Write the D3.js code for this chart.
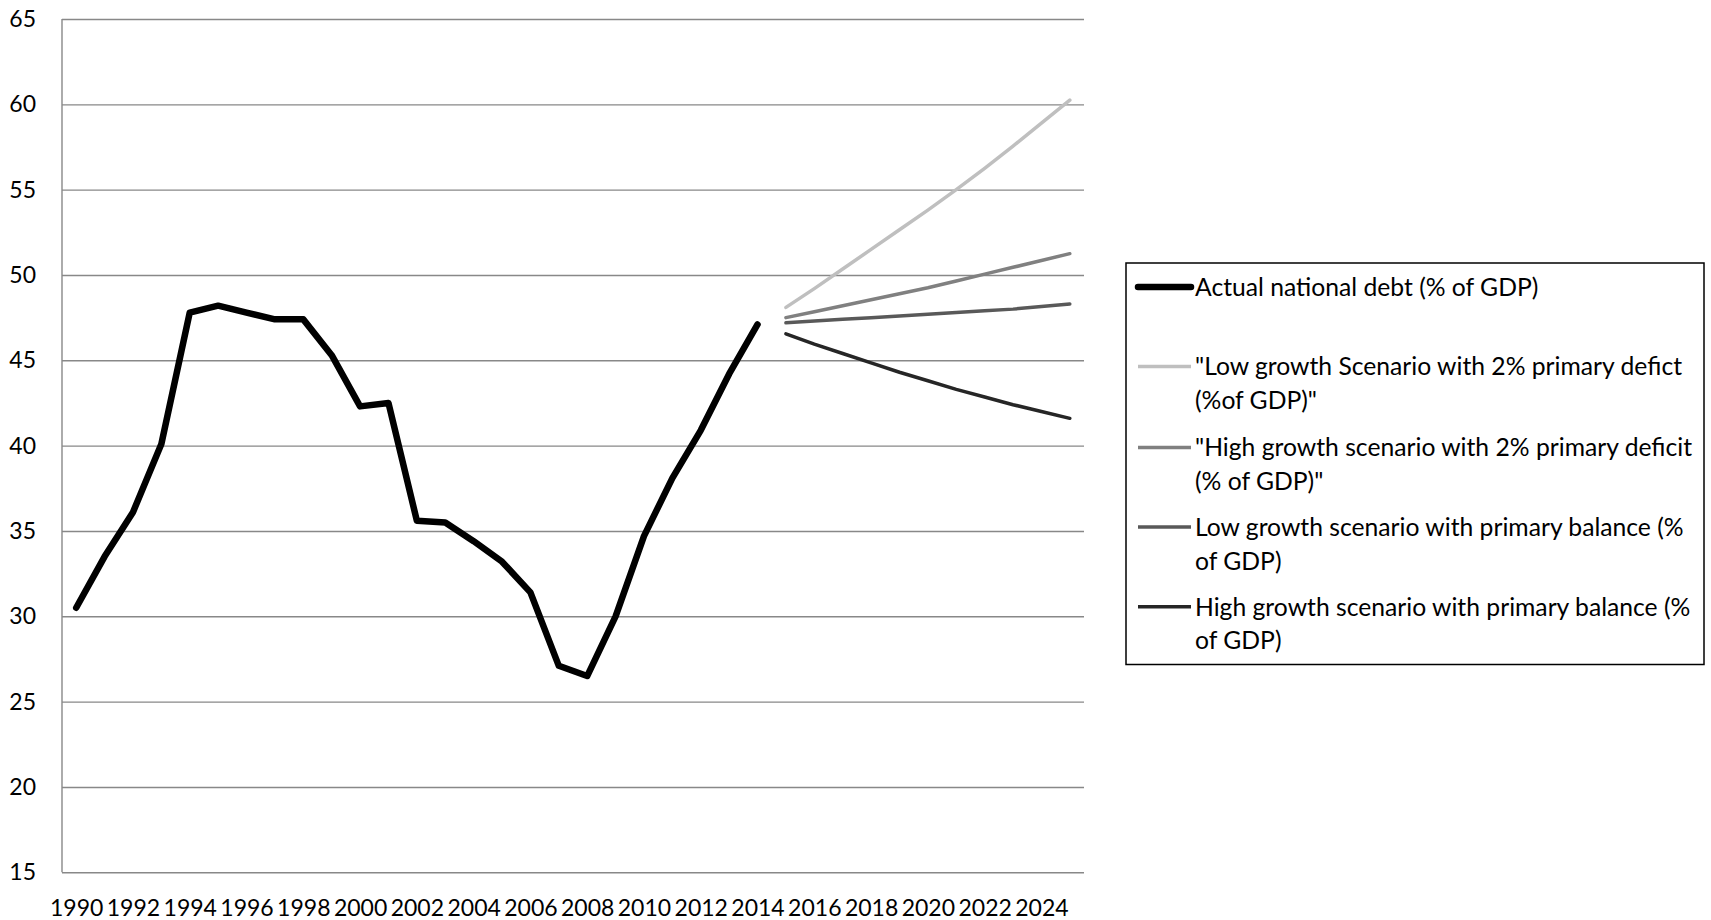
<!DOCTYPE html>
<html>
<head>
<meta charset="utf-8">
<script src="https://cdn.jsdelivr.net/npm/d3@7"></script>
<style>
  html, body { margin: 0; padding: 0; background: #fff; }
  svg { display: block; }
  text { font-family: Lato, "Open Sans", sans-serif; fill: #000; }
</style>
</head>
<body>
<svg id="chart" width="1711" height="920"></svg>
<script>
// Years on the category axis
const years = d3.range(1990, 2026);
const xTickLabels = d3.range(1990, 2025, 2);
const yTickValues = [15, 20, 25, 30, 35, 40, 45, 50, 55, 60, 65];

// Actual national debt, 1990–2014 (% of GDP)
const actualYears = d3.range(1990, 2015);
const actualDebt = [30.5, 33.5, 36.1, 40.1, 47.8, 48.2, 47.8, 47.4, 47.4, 45.3,
                    42.3, 42.5, 35.6, 35.5, 34.4, 33.2, 31.4, 27.1, 26.5, 30.0,
                    34.7, 38.1, 40.9, 44.2, 47.1];

// Projections, 2015–2025 (% of GDP)
const projYears = d3.range(2015, 2026);
const lowGrowthDeficit  = [48.10, 49.20, 50.35, 51.50, 52.65, 53.80, 55.00, 56.25, 57.55, 58.90, 60.25];
const highGrowthDeficit = [47.50, 47.85, 48.20, 48.55, 48.90, 49.25, 49.65, 50.05, 50.45, 50.85, 51.25];
const lowGrowthBalance  = [47.20, 47.30, 47.40, 47.50, 47.60, 47.70, 47.80, 47.90, 48.00, 48.15, 48.30];
const highGrowthBalance = [46.55, 45.95, 45.40, 44.85, 44.30, 43.80, 43.30, 42.85, 42.40, 42.00, 41.60];

// Series names, split into the lines shown in the legend
const seriesNames = [
  ["Actual national debt (% of GDP)"],
  ["\"Low growth Scenario with 2% primary defict", "(%of GDP)\""],
  ["\"High growth scenario with 2% primary deficit", "(% of GDP)\""],
  ["Low growth scenario with primary balance (%", "of GDP)"],
  ["High growth scenario with primary balance (%", "of GDP)"]
];
const seriesColors = ["#000000", "#bfbfbf", "#808080", "#595959", "#262626"];
const seriesWidths = [6.5, 3.5, 3.5, 3.5, 3.5];

const series = [
  { years: actualYears, values: actualDebt },
  { years: projYears, values: lowGrowthDeficit },
  { years: projYears, values: highGrowthDeficit },
  { years: projYears, values: lowGrowthBalance },
  { years: projYears, values: highGrowthBalance }
];

const svg = d3.select("#chart");
const plot = { left: 62, right: 1084, top: 19, bottom: 872.3 };
const axisFont = 23;
const legendFont = 24.7;

const x = d3.scalePoint().domain(years).range([plot.left, plot.right]).padding(0.5);
const y = d3.scaleLinear().domain([15, 65]).range([plot.bottom, plot.top]);

// Horizontal gridlines with value labels
const yAxis = svg.append("g")
  .attr("transform", `translate(${plot.left},0)`)
  .call(d3.axisLeft(y).tickValues(yTickValues)
    .tickSize(-(plot.right - plot.left)).tickPadding(26).tickFormat(d3.format("d")));
yAxis.select(".domain").remove();
yAxis.selectAll(".tick line").attr("stroke", "#888").attr("stroke-width", 1.4);
yAxis.selectAll(".tick text")
  .attr("font-size", axisFont).attr("fill", "#000")
  .style("font-family", "Lato, sans-serif");

// Vertical axis line
svg.append("line")
  .attr("x1", plot.left).attr("x2", plot.left)
  .attr("y1", plot.top).attr("y2", plot.bottom)
  .attr("stroke", "#888").attr("stroke-width", 1.4);

// Category labels along the bottom
const xAxis = svg.append("g")
  .attr("transform", `translate(0,${plot.bottom})`)
  .call(d3.axisBottom(x).tickValues(xTickLabels).tickSize(0).tickPadding(27));
xAxis.select(".domain").remove();
xAxis.selectAll(".tick text")
  .attr("font-size", axisFont).attr("fill", "#000")
  .style("font-family", "Lato, sans-serif");

// Data lines
const line = d3.line()
  .x(d => x(d[0]))
  .y(d => y(d[1]));

series.forEach((s, i) => {
  const pts = s.years.map((yr, j) => [yr, s.values[j]]);
  svg.append("path")
    .datum(pts)
    .attr("d", line)
    .attr("fill", "none")
    .attr("stroke", seriesColors[i])
    .attr("stroke-width", seriesWidths[i])
    .attr("stroke-linejoin", "round")
    .attr("stroke-linecap", "round");
});

// Legend
const legend = svg.append("g");
legend.append("rect")
  .attr("x", 1126).attr("y", 263)
  .attr("width", 578).attr("height", 401.5)
  .attr("fill", "#fff").attr("stroke", "#000").attr("stroke-width", 1.5);

const entryY = [287, 366.6, 447.4, 527, 606.7];
const lineGap = 33.8;
seriesNames.forEach((lines, i) => {
  const g = legend.append("g");
  g.append("line")
    .attr("x1", 1138).attr("x2", 1191)
    .attr("y1", entryY[i]).attr("y2", entryY[i])
    .attr("stroke", seriesColors[i])
    .attr("stroke-width", seriesWidths[i])
    .attr("stroke-linecap", i === 0 ? "round" : "butt");
  lines.forEach((t, k) => {
    g.append("text")
      .attr("x", 1195)
      .attr("y", entryY[i] + k * lineGap)
      .attr("dy", "0.36em")
      .attr("font-size", legendFont)
      .text(t);
  });
});
</script>
</body>
</html>
